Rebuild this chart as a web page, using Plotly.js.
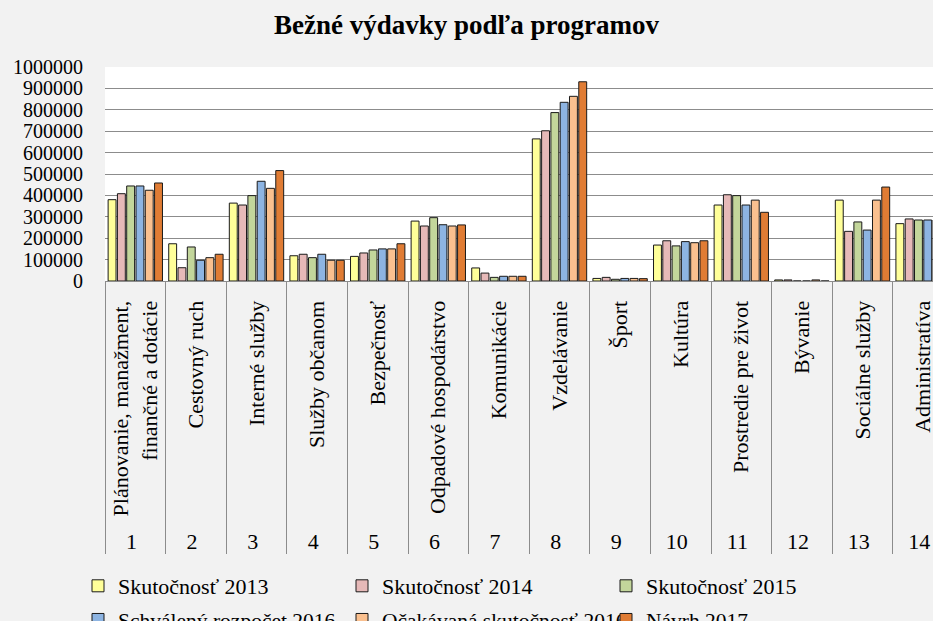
<!DOCTYPE html>
<html>
<head>
<meta charset="utf-8">
<script src="https://cdn.plot.ly/plotly-3.0.1.min.js"></script>
<style>
html,body{margin:0;padding:0;background:#F2F2F2;overflow:hidden;}
#chart{width:933px;height:640px;}
</style>
</head>
<body>
<div id="chart"></div>
<script>
const categories = ['Plánovanie, manažment,<br>finančné a dotácie', 'Cestovný ruch', 'Interné služby', 'Služby občanom', 'Bezpečnosť', 'Odpadové hospodárstvo', 'Komunikácie', 'Vzdelávanie', 'Šport', 'Kultúra', 'Prostredie pre život', 'Bývanie', 'Sociálne služby', 'Administratíva'];
const programNumbers = ['1','2','3','4','5','6','7','8','9','10','11','12','13','14'];
const seriesNames = ['Skutočnosť 2013', 'Skutočnosť 2014', 'Skutočnosť 2015', 'Schválený rozpočet 2016', 'Očakávaná skutočnosť 2016', 'Návrh 2017'];
const skutocnost2013 = [380000,174000,364000,118000,115000,280000,61000,664000,12000,168000,355000,5000,378000,268000];
const skutocnost2014 = [408000,62000,355000,125000,131000,257000,37000,702000,17000,188000,403000,5000,232000,290000];
const skutocnost2015 = [444000,159000,399000,109000,145000,296000,17000,787000,8000,164000,399000,0,276000,285000];
const schvalenyRozpocet2016 = [444000,97000,466000,125000,150000,263000,22000,835000,12000,184000,355000,0,238000,285000];
const ocakavanaSkutocnost2016 = [424000,109000,433000,97000,150000,257000,22000,863000,12000,179000,378000,5000,378000,285000];
const navrh2017 = [458000,125000,516000,97000,174000,262000,22000,931000,11000,188000,321000,0,439000,290000];
const yTickValues = [0,100000,200000,300000,400000,500000,600000,700000,800000,900000,1000000];

const colors = ['#FFFF99','#E6B9B8','#C3D69B','#8DB4E2','#FAC08F','#E07C34'];
const allSeries = [skutocnost2013, skutocnost2014, skutocnost2015, schvalenyRozpocet2016, ocakavanaSkutocnost2016, navrh2017];
const serif = 'Liberation Serif, Times New Roman, serif';

const traces = allSeries.map((vals, i) => ({
  type: 'bar',
  name: seriesNames[i],
  x: [programNumbers, categories],
  y: vals,
  marker: {color: colors[i], line: {color: '#1a1a1a', width: 1}},
  legend: i < 3 ? 'legend' : 'legend2'
}));

const H = 640;
const plotTop = 67, plotBottom = 282, plotLeft = 105;
const plotW = 828, plotH = plotBottom - plotTop;
const legendLeft = 78;
const layout = {
  width: 933, height: H,
  paper_bgcolor: '#F2F2F2',
  plot_bgcolor: '#FFFFFF',
  margin: {l: plotLeft, r: 0, t: plotTop, b: H - plotBottom, pad: 0},
  title: {text: '<b>Bežné výdavky podľa programov</b>', font: {family: serif, size: 27, color: '#000'}, x: 0.5, xref: 'container', y: 1 - 25/H, yanchor: 'middle'},
  barmode: 'group',
  bargap: 0.08,
  bargroupgap: 0.15,
  xaxis: {
    type: 'multicategory',
    range: [-0.5, -0.5 + plotW/60.6],
    tickangle: -90,
    tickfont: {family: serif, size: 22, color: '#000'},
    showline: true, linecolor: '#8C8C8C', linewidth: 1,
    showgrid: false,
    showdividers: true, dividercolor: '#8C8C8C', dividerwidth: 1,
    ticks: '',
    ticklabelstandoff: 10,
    automargin: false
  },
  yaxis: {
    range: [0, 1000000],
    tickvals: yTickValues,
    tickformat: 'd',
    tickfont: {family: serif, size: 20, color: '#000'},
    showgrid: true, gridcolor: '#8C8C8C', gridwidth: 1,
    zeroline: false, showline: false, ticks: '',
    ticklabelstandoff: 21,
    automargin: false
  },
  showlegend: true,
  legend: {
    orientation: 'h', x: (legendLeft - plotLeft)/plotW, xanchor: 'left', y: (plotBottom - 565)/plotH, yanchor: 'top',
    entrywidth: 219, entrywidthmode: 'pixels',
    font: {family: serif, size: 22, color: '#000'}, bgcolor: 'rgba(0,0,0,0)', borderwidth: 0
  },
  legend2: {
    orientation: 'h', x: (legendLeft - plotLeft)/plotW, xanchor: 'left', y: (plotBottom - 602)/plotH, yanchor: 'top',
    entrywidth: 219, entrywidthmode: 'pixels',
    font: {family: serif, size: 21.5, color: '#000'}, bgcolor: 'rgba(0,0,0,0)', borderwidth: 0
  }
};

Plotly.newPlot('chart', traces, layout, {displayModeBar: false, staticPlot: true});
</script>
</body>
</html>
